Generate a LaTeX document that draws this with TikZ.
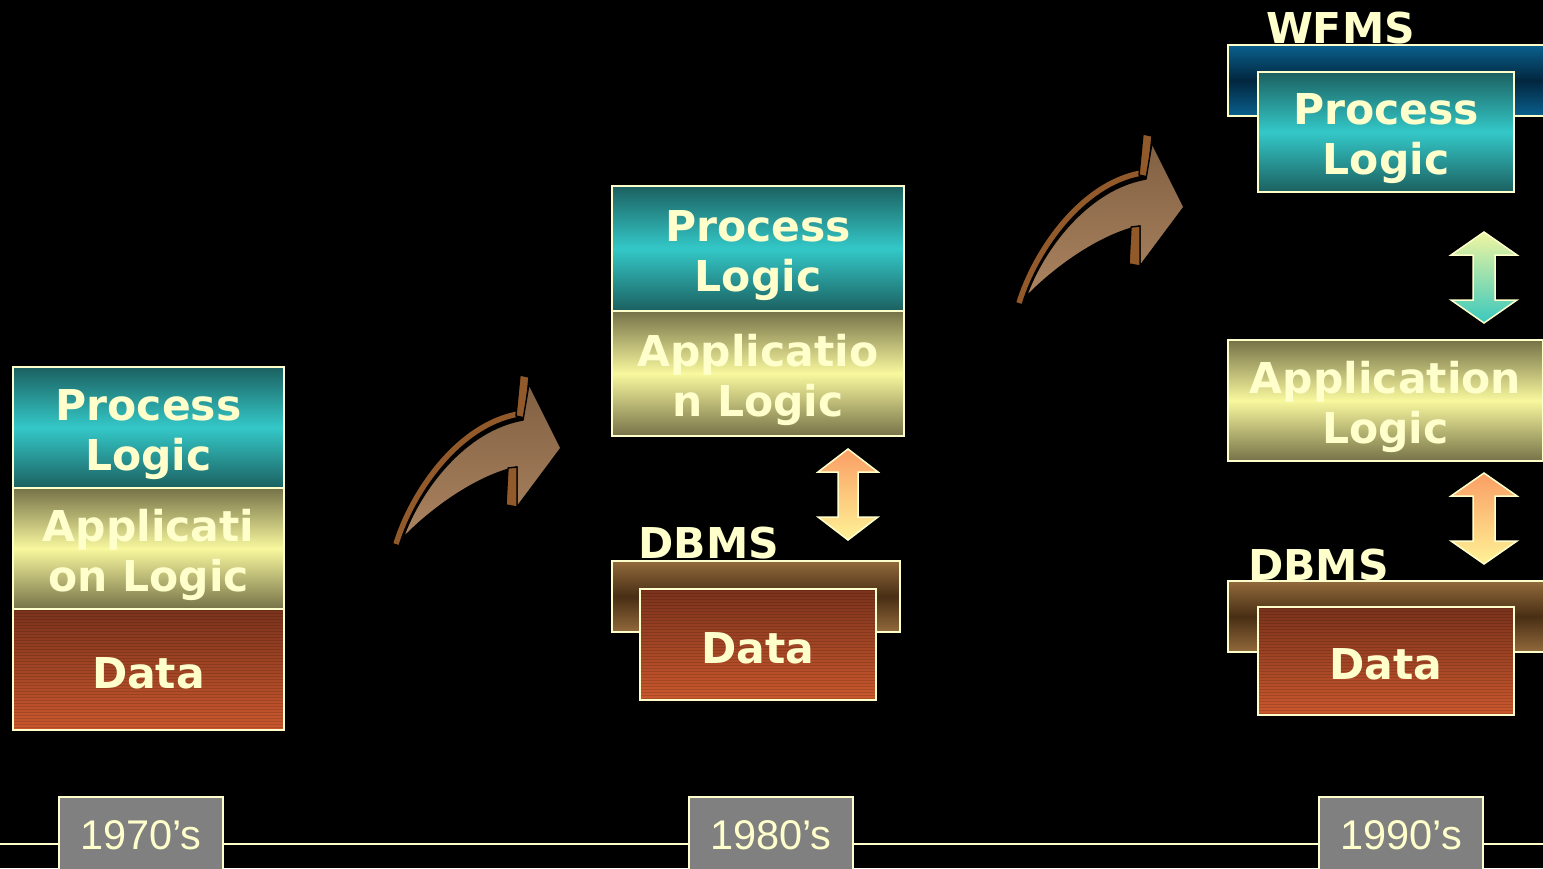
\documentclass[tikz,border=0pt]{standalone}
\usepackage{fontspec}
\setmainfont{DejaVu Sans}
\newfontfamily\yearfont{Liberation Sans}

\definecolor{cream}{RGB}{255,255,204}
\definecolor{procedge}{RGB}{28,96,96}
\definecolor{procmid}{RGB}{52,200,200}
\definecolor{appedge}{RGB}{118,114,72}
\definecolor{appmid}{RGB}{248,248,158}
\definecolor{datatop}{RGB}{122,50,28}
\definecolor{databot}{RGB}{202,88,45}
\definecolor{dbmsedge}{RGB}{146,106,60}
\definecolor{dbmsmid}{RGB}{72,46,20}
\definecolor{wfmsedge}{RGB}{10,96,142}
\definecolor{wfmsmid}{RGB}{2,38,62}
\definecolor{rimbrown}{RGB}{146,90,42}
\definecolor{facedark}{RGB}{128,96,66}
\definecolor{facelight}{RGB}{172,132,96}
\definecolor{orangetop}{RGB}{250,158,100}
\definecolor{yellowbot}{RGB}{255,242,150}
\definecolor{greentop}{RGB}{240,246,160}
\definecolor{tealbot}{RGB}{58,200,190}
\definecolor{yeargrey}{RGB}{128,128,128}

\begin{document}
\begin{tikzpicture}[x=1pt,y=-1pt,
  bigtext/.style={text=cream, font=\bfseries\fontsize{42.5}{50}\selectfont},
  box/.style={bigtext, draw=cream, line width=2.6pt, inner sep=0pt, align=center},
  twoline/.style={text height=85pt, text depth=0pt},
  oneline/.style={text height=37pt, text depth=0pt},
  procbox/.style={box, twoline, top color=procedge, bottom color=procedge, middle color=procmid},
  appbox/.style={box, twoline, top color=appedge, bottom color=appedge, middle color=appmid},
  % fine horizontal grain on the data blocks
  databox/.style={box, oneline, top color=datatop, bottom color=databot,
    path picture={\foreach \k in {1.5,4.5,...,124}
      \draw[black, draw opacity=0.13, line width=1.1pt]
        ([yshift=-\k pt]path picture bounding box.north west) --
        ([yshift=-\k pt]path picture bounding box.north east);}},
  dbmsband/.style={box, top color=dbmsedge, bottom color=dbmsedge, middle color=dbmsmid},
  wfmsband/.style={box, top color=wfmsedge, bottom color=wfmsedge, middle color=wfmsmid},
  headtext/.style={bigtext, inner sep=0pt, anchor=base},
  yearbox/.style={draw=cream, line width=2.4pt, fill=yeargrey, text=cream,
    font=\yearfont\fontsize{41.5}{50}\selectfont, minimum width=164, minimum height=94,
    inner sep=0pt, text height=30pt, text depth=20pt},
  timeline/.style={draw=cream, line width=2.4pt},
  rimline/.style={draw=rimbrown, line width=5.5pt, line cap=butt},
  rimedge/.style={draw=black, line width=8.5pt, line cap=butt},
  rim/.style={fill=rimbrown, draw=black, line width=1.4pt, line join=round},
  face/.style={top color=facedark, bottom color=facelight, draw=black, line width=1.4pt, line join=round},
  pics/bendarrow/.style={code={
    % upper rim of the bent arrow
    \path[rimedge] (396,544) .. controls (412,492) and (458,425) .. (518,414);
    \path[rimline] (396,544) .. controls (412,492) and (458,425) .. (518,414);
    % back edge above the head
    \path[rim] (520,375) -- (529,377) -- (525,418) -- (516,416) -- cycle;
    % arrow face
    \path[face] (403,538) .. controls (420,490) and (465,430) .. (523,420)
      -- (529,384) -- (561,448) -- (517,507) -- (517,467)
      .. controls (480,475) and (435,505) .. (403,538) -- cycle;
    % back edge below the head
    \path[rim] (508,468) -- (517,467) -- (517,507) -- (506,505) -- cycle;
  }},
  pics/updown/.style n args={3}{code={
    \shade[top color=#1, bottom color=#2, draw=cream, line width=1.5pt, line join=miter]
      (0,-45.5) -- (#3,-22.5) -- (#3/3,-22.5) -- (#3/3,22.5) -- (#3,22.5) -- (0,45.5)
      -- (-#3,22.5) -- (-#3/3,22.5) -- (-#3/3,-22.5) -- (-#3,-22.5) -- cycle;
  }}
]
\fill[black] (0,0) rectangle (1543,868);
\useasboundingbox (0,0) rectangle (1543,868);

% ---------- 1970's: everything in one stack ----------
\node[procbox, minimum width=271, minimum height=121] (p70) at (148.5,427.5) {Process\\Logic};
\node[appbox,  minimum width=271, minimum height=121] (a70) at (148.5,548.5) {Applicati\\on Logic};
\node[databox, minimum width=271, minimum height=121] (d70) at (148.5,669.5) {Data};

% ---------- 1980's: data split off into a DBMS ----------
\node[procbox, minimum width=292, minimum height=125] (p80) at (758,248.5) {Process\\Logic};
\node[appbox,  minimum width=292, minimum height=125] (a80) at (758,373.5) {Applicatio\\n Logic};
\node[dbmsband, minimum width=288, minimum height=71] (b80) at (756,596.5) {};
\node[databox, minimum width=236, minimum height=111] (d80) at (758,644.5) {Data};
\node[headtext] (t80) at (709,558) {DBMS};
\pic at (848,494.5) {updown={orangetop}{yellowbot}{30}};

% ---------- 1990's: process logic moved into a WFMS ----------
\node[wfmsband, minimum width=320, minimum height=71] (w90) at (1388,80.5) {};
\node[procbox, minimum width=256, minimum height=120] (p90) at (1386,132) {Process\\Logic};
\node[headtext] (t90w) at (1340.5,43) {WFMS};
\node[appbox,  minimum width=315, minimum height=121] (a90) at (1385.5,400.5) {Application\\Logic};
\node[dbmsband, minimum width=320, minimum height=71] (b90) at (1388,616.5) {};
\node[databox, minimum width=256, minimum height=108] (d90) at (1386,661) {Data};
\node[headtext] (t90d) at (1318.5,580) {DBMS};
\pic at (1484,277.5) {updown={greentop}{tealbot}{33}};
\pic at (1484,518.5) {updown={orangetop}{yellowbot}{33}};

% ---------- transitions between the decades ----------
\pic at (0,0) {bendarrow};
\pic at (623,-241) {bendarrow};

% ---------- time line ----------
\coordinate (tl0) at (0,844);
\coordinate (tl1) at (1543,844);
\node[yearbox] (l70) at (141,844) {1970’s};
\node[yearbox] (l80) at (771,844) {1980’s};
\node[yearbox] (l90) at (1401,844) {1990’s};
\draw[timeline] (tl0) -- (l70) -- (l80) -- (l90) -- (tl1);
\end{tikzpicture}
\end{document}
